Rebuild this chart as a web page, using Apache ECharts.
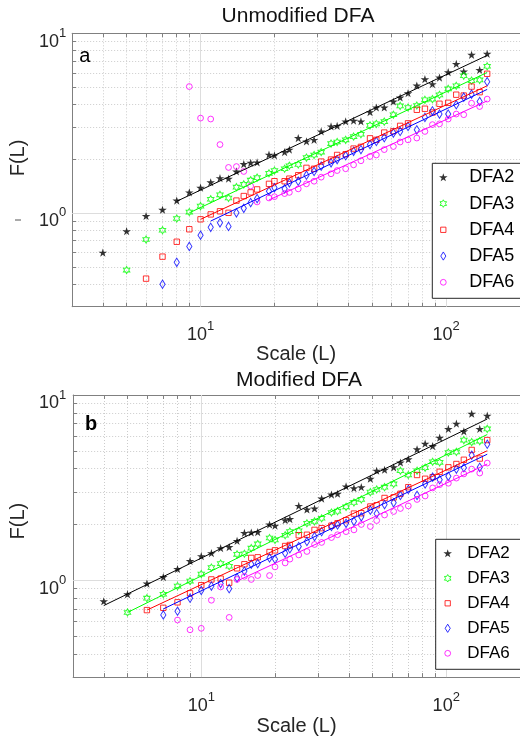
<!DOCTYPE html>
<html>
<head>
<meta charset="utf-8">
<script src="https://cdn.jsdelivr.net/npm/echarts@6/dist/echarts.min.js"></script>
<style>
  html, body { margin: 0; padding: 0; background: #ffffff; }
  #chart { width: 520px; height: 737px; }
</style>
</head>
<body>
<div id="chart"></div>
<script>
// Window sizes L shared by every detrending order
const scales = [4,5,6,7,8,9,10,11,12,13,14,15,16,17,19,20,22,23,25,27,29,31,34,36,39,42,45,49,52,56,61,65,70,76,82,88,94,102,110,118,127,137,147];

// (a) Unmodified DFA: fluctuation function F(L), one value per scale (null = not computed / off scale)
const unmodDFA2 = [0.60,0.79,0.96,1.04,1.17,1.30,1.38,1.48,1.56,1.55,1.70,1.87,1.90,1.91,2.11,2.09,2.18,2.25,2.61,2.50,2.55,2.84,3.03,3.05,3.23,3.26,3.23,3.64,3.86,3.86,4.17,4.39,4.64,5.12,5.55,5.21,5.67,6.07,6.75,6.12,7.59,6.25,7.69];
const unmodDFA3 = [null,0.48,0.71,0.80,0.93,1.01,1.09,1.19,1.26,1.21,1.39,1.44,1.52,1.57,1.66,1.72,1.76,1.83,1.86,2.03,2.10,2.18,2.43,2.48,2.55,2.66,2.74,3.07,3.13,3.22,3.52,3.94,3.86,3.96,4.26,4.30,4.54,4.90,5.10,5.80,5.45,5.50,6.55];
const unmodDFA4 = [null,null,0.43,0.57,0.69,0.81,0.92,0.98,1.02,1.00,1.17,1.24,1.30,1.35,1.45,1.50,1.50,1.55,1.62,1.78,1.76,1.93,1.98,2.10,2.12,2.28,2.33,2.60,2.55,2.80,2.85,3.05,3.15,3.75,3.80,3.62,4.05,4.10,4.55,4.50,5.05,4.70,5.95];
const unmodDFA5 = [null,null,null,0.40,0.53,0.65,0.75,0.83,0.88,0.84,1.00,1.06,1.14,1.20,1.32,1.38,1.36,1.47,1.50,1.62,1.70,1.82,1.90,1.98,2.08,2.20,2.25,2.40,2.50,2.62,2.78,2.84,3.03,2.90,3.40,3.70,3.55,3.55,4.00,4.41,4.58,4.17,5.38];
const unmodDFA6 = [null,null,null,null,null,5.05,3.37,3.33,2.40,1.79,1.81,1.70,1.41,1.15,1.21,1.23,1.28,1.30,1.36,1.45,1.50,1.58,1.65,1.72,1.76,1.85,1.95,2.06,2.10,2.25,2.34,2.48,2.55,2.61,2.84,3.10,3.13,3.33,3.55,3.52,4.08,3.91,4.30];

// (b) Modified DFA
const modDFA2 = [0.77,0.84,0.96,1.04,1.15,1.27,1.35,1.40,1.49,1.51,1.63,1.80,1.81,1.82,2.00,1.97,2.11,2.14,2.52,2.41,2.44,2.76,2.90,2.93,3.21,3.14,3.18,3.53,3.90,3.95,4.07,4.32,4.50,5.09,5.46,5.30,5.88,6.56,7.00,6.37,7.92,6.56,7.73];
const modDFA3 = [null,0.67,0.80,0.84,0.93,0.99,1.08,1.17,1.23,1.19,1.38,1.39,1.49,1.57,1.69,1.65,1.75,1.83,1.85,2.03,2.08,2.16,2.32,2.36,2.49,2.63,2.73,2.99,3.09,3.18,3.31,3.90,3.70,3.90,4.05,4.36,4.33,4.89,4.93,5.71,5.57,5.64,6.56];
const modDFA4 = [null,null,0.69,0.71,0.76,0.85,0.94,1.01,1.02,0.97,1.16,1.22,1.32,1.33,1.42,1.45,1.53,1.55,1.75,1.76,1.87,1.91,1.97,2.03,2.11,2.29,2.30,2.50,2.54,2.78,2.80,2.93,3.18,3.70,3.53,3.60,3.85,4.07,4.24,4.47,5.05,4.54,5.71];
const modDFA5 = [null,null,null,0.65,0.68,0.80,0.88,0.93,0.96,0.90,1.03,1.12,1.22,1.23,1.32,1.30,1.40,1.48,1.52,1.62,1.72,1.83,1.95,1.99,2.03,2.08,2.20,2.39,2.29,2.56,2.62,2.87,3.09,2.87,3.31,3.60,3.49,3.64,3.98,4.05,4.73,4.07,5.42];
const modDFA6 = [null,null,null,null,0.61,0.54,0.55,0.78,0.92,0.63,1.01,1.05,1.01,1.06,1.06,1.18,1.24,1.30,1.37,1.43,1.56,1.60,1.70,1.76,1.83,1.87,2.00,1.95,2.10,2.25,2.35,2.44,2.52,2.73,2.85,3.15,3.28,3.34,3.56,3.75,3.98,3.79,4.29];

// Power-law fits (straight in log-log): first fitted scale, F at that scale, F at the last scale
const fitEndScale = 147;
const unmodFitStart = [8, 9, 10, 11, 19];
const unmodFitFrom  = [1.16, 1.00, 0.92, 0.90, 1.18];
const unmodFitTo    = [7.53, 6.05, 5.10, 4.87, 4.20];
const modFitStart   = [4, 5, 6, 7, 14];
const modFitFrom    = [0.73, 0.67, 0.69, 0.70, 0.99];
const modFitTo      = [7.42, 6.12, 5.00, 4.79, 4.24];

// Axis tick / label values
const orderNames   = ['DFA2', 'DFA3', 'DFA4', 'DFA5', 'DFA6'];
const xTickValues  = [4,5,6,7,8,9,10,20,30,40,50,60,70,80,90,100];
const xLabelValues = [10, 100];
const yTickValues  = [0.4,0.5,0.6,0.7,0.8,0.9,1,2,3,4,5,6,7,8,9];
const yLabelValues = [1, 10];
const xMajorGrid   = [10, 100];
const yMajorGrid   = [1];

const FONT = "'Liberation Sans', Arial, Helvetica, sans-serif";
const TXT = '#262626';
const AXIS = '#808080';

// marker shapes
const STAR = 'path://M0,-100L22.45,-30.9L95.1,-30.9L36.33,11.8L58.78,80.9L0,38.2L-58.78,80.9L-36.33,11.8L-95.1,-30.9L-22.45,-30.9Z';
const HEX = 'path://M0,-100L28.87,-50L86.6,-50L57.74,0L86.6,50L28.87,50L0,100L-28.87,50L-86.6,50L-57.74,0L-86.6,-50L-28.87,-50Z';
// legend icons: same shapes inside a fixed 200x200 frame so each keeps its own size
const FRAME = 'M-100,-100M100,100';
const STAR_L = 'path://' + FRAME + 'M0,-81.4L20.2,-19.2L85.6,-19.2L32.7,19.2L52.9,81.4L0,43L-52.9,81.4L-32.7,19.2L-85.6,-19.2L-20.2,-19.2Z';
const HEX_L = 'path://' + FRAME + 'M0,-75L21.7,-37.5L65,-37.5L43.3,0L65,37.5L21.7,37.5L0,75L-21.7,37.5L-65,37.5L-43.3,0L-65,-37.5L-21.7,-37.5Z';
const SQ_L = 'path://' + FRAME + 'M-53,-53L53,-53L53,53L-53,53Z';
const DIA_L = 'path://' + FRAME + 'M0,-82L51,0L0,82L-51,0Z';
const CIR_L = 'path://' + FRAME + 'M58,0A58,58,0,1,1,-58,0A58,58,0,1,1,58,0Z';

const orderStyles = [
  { color: '#000000', symbol: STAR, size: [8.6, 8.2], filled: true, icon: STAR_L },
  { color: '#00ff00', symbol: HEX, size: [6.4, 7.2], filled: false, icon: HEX_L },
  { color: '#ff0000', symbol: 'rect', size: 5.4, filled: false, icon: SQ_L },
  { color: '#0000ff', symbol: 'diamond', size: [5.2, 8.4], filled: false, icon: DIA_L },
  { color: '#ff00ff', symbol: 'circle', size: 5.8, filled: false, icon: CIR_L }
];

function markerStyle(st) {
  return st.filled
    ? { color: st.color, borderWidth: 0 }
    : { color: 'rgba(0,0,0,0)', borderColor: st.color, borderWidth: 1 };
}

const powLabel = v => '{b|10}{s|' + Math.round(Math.log10(v)) + '}';
const powRich = {
  b: { fontSize: 18, lineHeight: 24, verticalAlign: 'bottom', color: TXT, fontFamily: FONT },
  s: { fontSize: 13, lineHeight: 14, verticalAlign: 'top', color: TXT, fontFamily: FONT }
};

const panels = [
  { grid: { left: 68, top: 33.3, width: 461, height: 273.4 }, xMargin: 13, xNameGap: 25,
    yMargin: 6, yNameGap: 33, yNamePad: 24,
    values: [unmodDFA2, unmodDFA3, unmodDFA4, unmodDFA5, unmodDFA6],
    fitStart: unmodFitStart, fitFrom: unmodFitFrom, fitTo: unmodFitTo },
  { grid: { left: 69, top: 395, width: 461, height: 286 }, xMargin: 14, xNameGap: 32,
    yMargin: 7, yNameGap: 35.5, yNamePad: 30,
    values: [modDFA2, modDFA3, modDFA4, modDFA5, modDFA6],
    fitStart: modFitStart, fitFrom: modFitFrom, fitTo: modFitTo }
];

const grids = [], xAxes = [], yAxes = [], series = [];

panels.forEach((p, g) => {
  grids.push(Object.assign({ containLabel: false }, p.grid));
  const xBottom = xAxes.length;
  xAxes.push({
    type: 'log', logBase: 10, gridIndex: g, min: 3, max: 200, position: 'bottom',
    axisLine: { show: true, onZero: false, lineStyle: { color: AXIS, width: 1 } },
    axisTick: { show: true, inside: true, length: 4, customValues: xTickValues, lineStyle: { color: AXIS } },
    axisLabel: { show: true, customValues: xLabelValues, formatter: powLabel, rich: powRich, margin: p.xMargin },
    splitLine: { show: true, lineStyle: { color: '#cccccc', width: 1, type: [1, 2] } },
    name: 'Scale (L)', nameLocation: 'middle', nameGap: p.xNameGap,
    nameTextStyle: { fontSize: 20, color: TXT, fontFamily: FONT }
  });
  xAxes.push({
    type: 'log', logBase: 10, gridIndex: g, min: 3, max: 200, position: 'top',
    axisLine: { show: true, onZero: false, lineStyle: { color: AXIS, width: 1 } },
    axisTick: { show: true, inside: true, length: 4, customValues: xTickValues, lineStyle: { color: AXIS } },
    axisLabel: { show: false },
    splitLine: { show: false }
  });
  const yIdx = yAxes.length;
  yAxes.push({
    type: 'log', logBase: 10, gridIndex: g, min: 0.3, max: 10, position: 'left',
    axisLine: { show: true, onZero: false, lineStyle: { color: AXIS, width: 1 } },
    axisTick: { show: true, inside: true, length: 4, customValues: yTickValues, lineStyle: { color: AXIS } },
    axisLabel: { show: true, customValues: yLabelValues, formatter: powLabel, rich: powRich,
                 margin: p.yMargin, padding: [11, 0, 0, 0] },
    splitLine: { show: true, lineStyle: { color: '#cccccc', width: 1, type: [1, 2] } },
    name: 'F(L)', nameLocation: 'middle', nameGap: p.yNameGap, nameRotate: 90,
    nameTextStyle: { fontSize: 20, color: TXT, fontFamily: FONT, padding: [0, 0, 0, p.yNamePad] }
  });

  // solid major grid lines at the decades (kept beneath markers and legend)
  series.push({
    type: 'line', xAxisIndex: xBottom, yAxisIndex: yIdx, data: [], silent: true, z: 1,
    markLine: {
      silent: true, symbol: 'none', animation: false, z: 1, label: { show: false },
      lineStyle: { color: '#dddddd', type: 'solid', width: 1 },
      data: xMajorGrid.map(v => ({ xAxis: v })).concat(yMajorGrid.map(v => ({ yAxis: v })))
    }
  });

  p.values.forEach((arr, k) => {
    const st = orderStyles[k];
    series.push({
      name: orderNames[k], type: 'scatter', xAxisIndex: xBottom, yAxisIndex: yIdx,
      data: scales.map((L, i) => [L, arr[i]]).filter(d => d[1] !== null),
      symbol: st.symbol, symbolSize: st.size, itemStyle: markerStyle(st), z: 3, silent: true
    });
  });
  p.values.forEach((arr, k) => {
    series.push({
      name: orderNames[k] + ' fit', type: 'line', xAxisIndex: xBottom, yAxisIndex: yIdx,
      data: [[p.fitStart[k], p.fitFrom[k]], [fitEndScale, p.fitTo[k]]],
      symbol: 'none', showSymbol: false, silent: true, z: 4,
      lineStyle: { color: orderStyles[k].color, width: 1 }
    });
  });
});

const legendData = orderNames.map((n, k) => ({
  name: n, icon: orderStyles[k].icon, itemStyle: markerStyle(orderStyles[k])
}));

function legendBox(left, top, gap, fontSize, textPad, padLeft) {
  return {
    show: true, orient: 'vertical', left: left, top: top, padding: [4, 14, 6, padLeft], z: 20,
    itemGap: gap, itemWidth: 10, itemHeight: 10, selectedMode: false,
    backgroundColor: '#ffffff', borderColor: '#262626', borderWidth: 1, borderRadius: 0,
    textStyle: { fontSize: fontSize, lineHeight: 20, color: '#000000', fontFamily: FONT, padding: [0, 0, 0, textPad] },
    data: legendData
  };
}

const option = {
  animation: false,
  backgroundColor: '#ffffff',
  title: [
    { text: 'Unmodified DFA', left: 298, top: 6, textAlign: 'center', padding: 0,
      textStyle: { fontSize: 21, lineHeight: 21, fontWeight: 'normal', color: '#111', fontFamily: FONT } },
    { text: 'Modified DFA', left: 299, top: 369.5, textAlign: 'center', padding: 0,
      textStyle: { fontSize: 21, lineHeight: 21, fontWeight: 'normal', color: '#111', fontFamily: FONT } }
  ],
  legend: [
    legendBox(432.3, 163.3, 6.25, 18, 16, 5.5),
    legendBox(435.7, 539.3, 5, 17, 9.5, 6.5)
  ],
  grid: grids,
  xAxis: xAxes,
  yAxis: yAxes,
  series: series,
  graphic: [
    { type: 'text', x: 79.3, y: 56.5, z: 10,
      style: { text: 'a', fontSize: 20, fontFamily: FONT, fill: '#000', verticalAlign: 'middle' } },
    { type: 'text', x: 85, y: 424.8, z: 10,
      style: { text: 'b', fontSize: 20, fontWeight: 'bold', fontFamily: FONT, fill: '#000', verticalAlign: 'middle' } },
    { type: 'line', z: 10, shape: { x1: 15, y1: 220, x2: 21, y2: 220 }, style: { stroke: '#555', lineWidth: 1 } }
  ]
};

const chart = echarts.init(document.getElementById('chart'), null, { renderer: 'canvas' });
chart.setOption(option);
</script>
</body>
</html>
